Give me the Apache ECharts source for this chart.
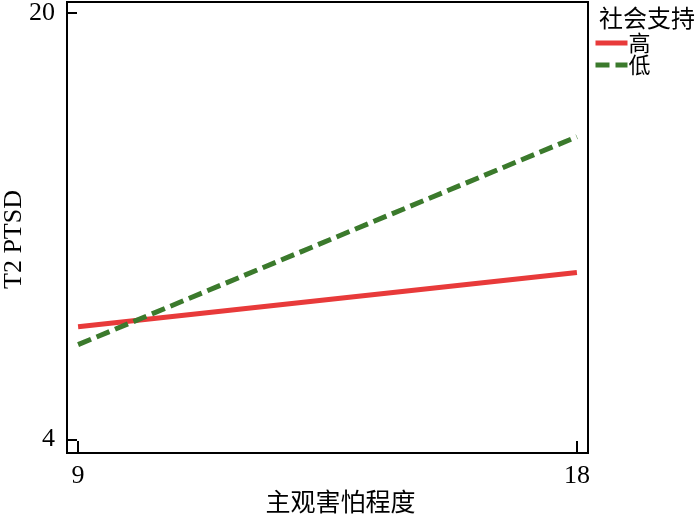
<!DOCTYPE html>
<html>
<head>
<meta charset="utf-8">
<script src="https://cdn.jsdelivr.net/npm/echarts@6/dist/echarts.min.js"></script>
<style>
  html, body { margin: 0; padding: 0; background: #fff; }
  #main { width: 700px; height: 520px; }
</style>
</head>
<body>
<div id="main"></div>
<script>
// 数据：主观害怕程度 (9, 18) 下 T2 PTSD 的简单斜率
const xValues = [9, 18]
const highSupport = [8.23, 10.26] // 社会支持 高
const lowSupport = [7.56, 15.35] // 社会支持 低
const xTicks = [9, 18]
const yTicks = [4, 20]

const serif = '"Liberation Serif", "Noto Sans CJK SC", serif'
const cjk = '"Noto Sans CJK SC", "Liberation Serif", sans-serif'

const chart = echarts.init(document.getElementById('main'))

const option = {
  animation: false,
  backgroundColor: '#fff',
  title: {
    text: '社会支持',
    left: 594,
    top: 1,
    textStyle: { fontFamily: cjk, fontSize: 24, fontWeight: 'normal', color: '#000' }
  },
  legend: {
    orient: 'vertical',
    left: 593,
    top: 32,
    padding: 0,
    itemWidth: 32,
    itemHeight: 14,
    itemGap: 0,
    data: ['高', '低'],
    itemStyle: { opacity: 0 },
    lineStyle: { width: 5 },
    textStyle: { fontFamily: cjk, fontSize: 22, lineHeight: 21, color: '#000', padding: [0, 0, 0, -4] }
  },
  grid: {
    left: 67,
    right: 112,
    top: 2,
    bottom: 67,
    outerBoundsMode: 'none',
    containLabel: false,
    show: true,
    borderColor: '#000',
    borderWidth: 2
  },
  xAxis: {
    type: 'value',
    min: 8.8,
    max: 18.2,
    name: '主观害怕程度',
    nameLocation: 'middle',
    nameGap: 36,
    nameMoveOverlap: false,
    nameTextStyle: { fontFamily: cjk, fontSize: 25, color: '#000', padding: [0, 0, 0, 26] },
    axisLine: { show: true, lineStyle: { color: '#000', width: 2 } },
    axisTick: { show: true, inside: true, length: 12, customValues: xTicks, lineStyle: { color: '#000', width: 2 } },
    axisLabel: { customValues: xTicks, margin: 10, fontFamily: serif, fontSize: 26, color: '#000' },
    splitLine: { show: false }
  },
  yAxis: {
    type: 'value',
    min: 3.5,
    max: 20.4,
    name: 'T2 PTSD',
    nameLocation: 'middle',
    nameGap: 40,
    nameMoveOverlap: false,
    nameTextStyle: { fontFamily: serif, fontSize: 26, color: '#000', padding: [0, 24, 0, 0] },
    axisLine: { show: true, lineStyle: { color: '#000', width: 2 } },
    axisTick: { show: true, inside: true, length: 10, customValues: yTicks, lineStyle: { color: '#000', width: 2 } },
    axisLabel: { customValues: yTicks, margin: 12, fontFamily: serif, fontSize: 26, color: '#000' },
    splitLine: { show: false }
  },
  series: [
    {
      name: '高',
      type: 'line',
      symbol: 'none',
      data: xValues.map((x, i) => [x, highSupport[i]]),
      lineStyle: { color: '#e83a3a', width: 5 },
      itemStyle: { color: '#e83a3a' }
    },
    {
      name: '低',
      type: 'line',
      symbol: 'none',
      data: xValues.map((x, i) => [x, lowSupport[i]]),
      lineStyle: { color: '#3b7a2c', width: 5, type: [14, 6] },
      itemStyle: { color: '#3b7a2c' }
    }
  ]
}

chart.setOption(option)
</script>
</body>
</html>
